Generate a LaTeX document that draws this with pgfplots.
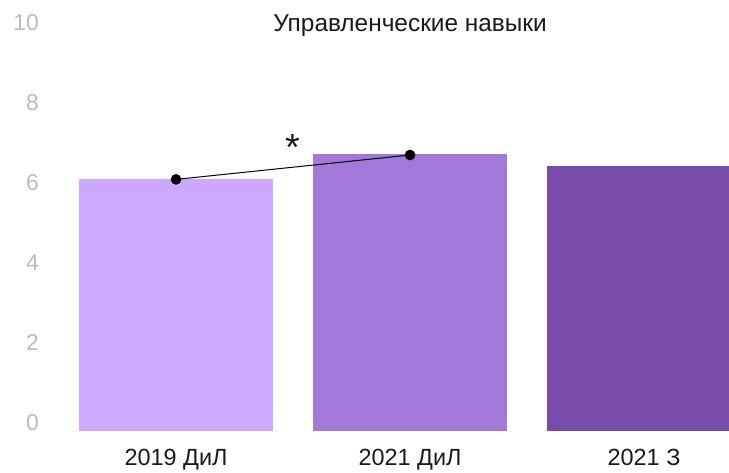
\documentclass[border=0pt]{standalone}
\usepackage{pgfplots}
\pgfplotsset{compat=1.18}
\usepackage{fontspec}
\setmainfont{Liberation Sans}
\definecolor{c1}{HTML}{CCA9FE}
\definecolor{c2}{HTML}{A279D8}
\definecolor{c3}{HTML}{794CAB}
\definecolor{tickgray}{HTML}{BBBBBB}
\definecolor{txt}{HTML}{1A1A1A}
\begin{document}
\begin{tikzpicture}
\useasboundingbox (0,0) rectangle (729bp,473bp);
\begin{axis}[
  at={(45bp,42bp)}, anchor=south west,
  scale only axis, width=684bp, height=400bp,
  xmin=-0.56, xmax=2.363, ymin=0, ymax=10,
  ytick={0,2,...,10}, xtick={0,1,2},
  xticklabels={2019 ДиЛ,2021 ДиЛ,2021 З},
  axis line style={draw=none}, major tick length=0,
  clip mode=individual,
  /pgf/number format/assume math mode=true,
  yticklabel style={anchor=base east, inner sep=0pt, xshift=-6bp, text=tickgray, font=\fontsize{23}{23}\selectfont},
  xticklabel style={anchor=base, inner sep=0pt, yshift=-35bp, text=txt, font=\fontsize{23.5}{23.5}\selectfont},
]
\addplot[ybar, bar width=0.829, bar shift=0, fill=c1, draw=none] coordinates {(0,6.3)};
\addplot[ybar, bar width=0.829, bar shift=0, fill=c2, draw=none] coordinates {(1,6.92)};
\addplot[ybar, bar width=0.829, bar shift=0, fill=c3, draw=none] coordinates {(2,6.63)};
\addplot[black, line width=1pt, mark=*, mark size=4.8bp] coordinates {(0,6.29) (1,6.9)};
\node[anchor=base, text=txt, font=\fontsize{24.5}{24.5}\selectfont] at (axis cs:1,9.975) {Управленческие навыки};
\node[anchor=center, text=txt, font=\fontsize{38}{38}\selectfont] at (axis cs:0.5,7.1) {*};
\end{axis}
\end{tikzpicture}
\end{document}
